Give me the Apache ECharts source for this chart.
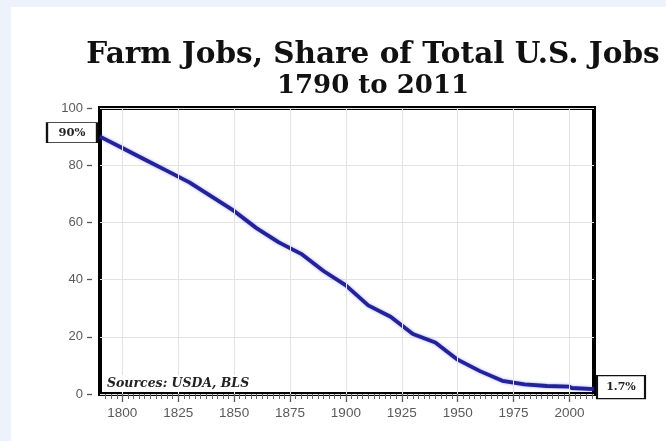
<!DOCTYPE html>
<html>
<head>
<meta charset="utf-8">
<script src="https://cdn.jsdelivr.net/npm/echarts@6/dist/echarts.min.js"></script>
<style>
  html, body { margin: 0; padding: 0; background: #eef3fb; }
  #panel { position: absolute; left: 11px; top: 7px; right: 0; bottom: 0; background: #ffffff; }
  #chart { position: absolute; left: 0; top: 0; width: 666px; height: 441px; }
</style>
</head>
<body>
<div id="panel"></div>
<div id="chart"></div>
<script>
// Data (percent of total U.S. jobs in farming)
const years = [1790, 1800, 1810, 1820, 1830, 1840, 1850, 1860, 1870, 1880, 1890, 1900,
               1910, 1920, 1930, 1940, 1950, 1960, 1970, 1980, 1990, 2000, 2001, 2011];
const farmShare = [90, 86, 82, 78, 74, 69, 64, 58, 53, 49, 43, 38,
                   31, 27, 21, 18, 12, 8, 4.6, 3.4, 2.8, 2.6, 2.1, 1.7];
const xTickLabels = [1800, 1825, 1850, 1875, 1900, 1925, 1950, 1975, 2000];
const yTicks = [0, 20, 40, 60, 80, 100];
const startLabel = '90%';
const endLabel = '1.7%';
const titleLines = ['Farm Jobs, Share of Total U.S. Jobs', '1790 to 2011'];
const sourceNote = 'Sources: USDA, BLS';

const xMin = 1790, xMax = 2011;
const minorTicks = [];
for (let y = 1792.5; y < xMax; y += 2.5) minorTicks.push(y);

const seriesData = years.map((y, i) => [y, farmShare[i]]);
const n = seriesData.length;

const chart = echarts.init(document.getElementById('chart'), null, { renderer: 'canvas' });
const labelFont = { fontFamily: 'Liberation Sans, Arial, sans-serif', color: '#5a5a5a' };

chart.setOption({
  backgroundColor: 'transparent',
  animation: false,
  title: {
    text: titleLines[0],
    subtext: titleLines[1],
    left: 368,
    top: 35,
    itemGap: 3,
    textAlign: 'center',
    textStyle: {
      fontFamily: 'DejaVu Serif, Georgia, serif',
      fontWeight: 'bold',
      fontSize: 29.5,
      lineHeight: 30,
      color: '#111'
    },
    subtextStyle: {
      fontFamily: 'DejaVu Serif, Georgia, serif',
      fontWeight: 'bold',
      fontSize: 26,
      lineHeight: 26,
      color: '#111'
    }
  },
  grid: {
    left: 100, right: 72, top: 108, bottom: 47,
    show: true, borderColor: '#000', borderWidth: 4, backgroundColor: 'transparent'
  },
  xAxis: [{
    type: 'value', min: xMin, max: xMax, position: 'bottom',
    axisLine: { show: true, lineStyle: { color: 'rgba(0,0,0,0)' } },
    axisTick: { show: true, customValues: xTickLabels, length: 8, lineStyle: { color: '#555', width: 1.3 } },
    axisLabel: Object.assign({ customValues: xTickLabels, margin: 12, fontSize: 13.5, formatter: v => String(v) }, labelFont),
    splitLine: { show: false }
  }, {
    type: 'value', min: xMin, max: xMax, position: 'bottom',
    axisLine: { show: true, lineStyle: { color: 'rgba(0,0,0,0)' } },
    axisTick: { show: true, customValues: minorTicks, length: 5, lineStyle: { color: '#666', width: 1 } },
    axisLabel: { show: false },
    splitLine: { show: false }
  }],
  yAxis: {
    type: 'value', min: 0, max: 100, interval: 20,
    offset: 8,
    axisLine: { show: true, lineStyle: { color: 'rgba(0,0,0,0)' } },
    axisTick: { show: true, length: 5, lineStyle: { color: '#555', width: 1.3 } },
    axisLabel: Object.assign({ margin: 9, fontSize: 13 }, labelFont),
    splitLine: { show: true, lineStyle: { color: '#e3e3e3', width: 1 } }
  },
  series: [{
    type: 'line',
    data: seriesData,
    xAxisIndex: 0,
    showSymbol: false,
    smooth: false,
    clip: false,
    lineStyle: { color: '#22229a', width: 3.8, shadowColor: 'rgba(70,70,255,0.5)', shadowBlur: 3 },
    markLine: {
      silent: true,
      symbol: 'none',
      label: { show: false },
      lineStyle: { color: '#e3e3e3', width: 1, type: 'solid' },
      data: xTickLabels.map(v => ({ xAxis: v }))
    },
    markPoint: {
      silent: true,
      data: [
        {
          coord: seriesData[0], symbol: 'rect', symbolSize: [50, 20], symbolOffset: [-28, -4],
          itemStyle: { color: '#fff', borderColor: '#111', borderWidth: 1.5 },
          label: { show: true, position: 'inside', formatter: startLabel,
                   fontFamily: 'DejaVu Serif, serif', fontWeight: 'bold', fontSize: 11.5, color: '#222' }
        },
        {
          coord: seriesData[n - 1], symbol: 'rect', symbolSize: [48, 23], symbolOffset: [27, -2],
          itemStyle: { color: '#fff', borderColor: '#111', borderWidth: 1.5 },
          label: { show: true, position: 'inside', formatter: endLabel,
                   fontFamily: 'DejaVu Serif, serif', fontWeight: 'bold', fontSize: 11, color: '#222' }
        }
      ]
    }
  }],
  graphic: [{
    type: 'text',
    left: 105,
    top: 375,
    z: 10,
    style: {
      text: sourceNote,
      font: 'italic bold 12.5px "DejaVu Serif", serif',
      fill: '#222',
      backgroundColor: '#fff',
      padding: [2, 2, 2, 2]
    }
  }]
});
</script>
</body>
</html>
